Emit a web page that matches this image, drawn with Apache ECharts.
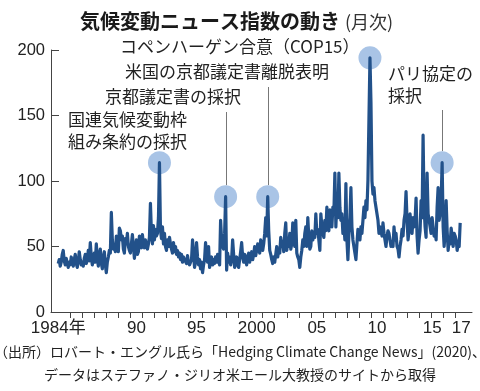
<!DOCTYPE html>
<html><head><meta charset="utf-8">
<script src="https://cdn.jsdelivr.net/npm/echarts@6/dist/echarts.min.js"></script>
<style>html,body{margin:0;padding:0;background:#fff}#c{width:480px;height:391px}</style>
</head><body><div id="c"></div>
<script>
// ---- data (monthly index, Jan 1984 - Jun 2017) ----
const startYear = 1984;
const v1984_1988 = [
  37,40,35,38,44,47,39,36,41,37,34,38,
  36,42,38,35,40,44,37,34,39,46,40,36,
  38,35,41,44,37,40,47,39,53,42,36,40,
  45,38,52,41,35,44,48,37,33,42,46,36,
  30,38,42,47,45,76,55,48,50,46,58,52];
const v1989_1993 = [
  46,64,62,55,58,48,45,56,52,60,50,47,
  45,52,59,50,41,48,55,44,46,58,52,49,
  59,52,49,55,50,48,52,57,83,60,52,66,
  55,63,58,60,72,114,63,56,65,52,60,50,
  47,55,50,57,52,48,45,53,46,50,44,47];
const v1994_1998 = [
  42,45,40,44,38,42,40,39,37,43,38,36,
  37,40,55,45,34,38,53,42,36,40,33,38,
  30,36,40,53,42,38,50,34,38,42,36,40,
  37,42,38,44,40,36,70,55,50,48,60,88,
  32,45,38,42,36,40,55,44,34,38,42,36];
const v1999_2003 = [
  34,40,46,53,42,38,44,40,36,42,45,38,
  42,46,40,44,50,43,47,52,48,45,55,50,
  47,52,60,72,58,88,62,47,44,40,37,42,
  38,44,50,42,48,45,57,50,54,46,60,68,
  47,55,50,60,48,52,68,56,50,70,45,42];
const v2004_2008 = [
  40,34,42,47,55,50,60,65,50,72,57,48,
  50,62,55,60,57,75,60,63,55,47,75,66,
  60,57,70,62,80,65,62,78,70,65,80,75,
  106,65,85,72,106,80,70,75,60,66,55,98,
  55,40,60,72,95,65,55,50,45,40,52,63];
const v2009_2013 = [
  58,55,65,60,70,80,72,85,78,101,100,194,
  160,100,90,95,85,80,75,70,60,65,62,58,
  68,60,55,50,58,62,60,55,50,52,50,65,
  55,60,50,48,42,50,55,63,58,70,75,92,
  70,55,62,75,65,60,72,65,70,87,58,45];
const v2014_2017 = [
  55,62,85,72,135,80,65,57,106,75,70,65,
  60,72,65,58,62,55,80,95,70,75,85,114,
  65,50,60,85,62,47,55,52,64,58,50,60,
  58,55,47,52,50,68];

const yTicks = [0, 50, 100, 150, 200];
const xLabelYears = [1984, 1990, 1995, 2000, 2005, 2010, 2015, 2017];
const xLabelText = ['1984年', '90', '95', '2000', '05', '10', '15', '17'];

// events: month index (from Jan 1984) and annotation text
const eventIdx = [101, 167, 209, 311, 383];
const eventText = [
  ['国連気候変動枠', '組み条約の採択'],
  ['京都議定書の採択'],
  ['米国の京都議定書離脱表明'],
  ['コペンハーゲン合意（COP15）'],
  ['パリ協定の', '採択']
];
const titleMain = '気候変動ニュース指数の動き';
const titleSub = '(月次)';
const source1 = '（出所）ロバート・エングル氏ら「Hedging Climate Change News」(2020)、';
const source2 = 'データはステファノ・ジリオ米エール大教授のサイトから取得';

// ---- build ----
const values = [].concat(v1984_1988, v1989_1993, v1994_1998, v1999_2003, v2004_2008, v2009_2013, v2014_2017);
const lineData = values.map((v, i) => [startYear + i / 12, v]);
const eventData = eventIdx.map(i => lineData[i]);
const tickYears = [];
for (let y = 1985; y <= 2017; y++) tickYears.push(y);
const labelOffset = [0, 0.5, 0.5, 0.5, 0.5, 0.5, 0.1, 0.5];
const labelPos = xLabelYears.map((y, k) => y + labelOffset[k]);

const NUM = "'Liberation Sans','Noto Sans CJK JP',sans-serif";
const JP = "'Noto Sans CJK JP',sans-serif";

const chart = echarts.init(document.getElementById('c'), null, {renderer: 'canvas'});
chart.setOption({
  animation: false,
  backgroundColor: '#fff',
  grid: {left: 51, right: 8, top: 50, bottom: 79},
  xAxis: {
    type: 'value', min: 1983.4, max: 2018.4,
    axisLine: {show: true, lineStyle: {color: '#444', width: 1}},
    axisTick: {show: true, customValues: tickYears, length: 6, lineStyle: {color: '#444'}},
    axisLabel: {
      customValues: labelPos, fontSize: 17, color: '#222', margin: 8, fontFamily: NUM,
      formatter: function (v) {
        let best = 0;
        for (let k = 0; k < labelPos.length; k++) if (Math.abs(labelPos[k] - v) < Math.abs(labelPos[best] - v)) best = k;
        return xLabelText[best];
      }
    },
    splitLine: {show: false}
  },
  yAxis: {
    type: 'value', min: yTicks[0], max: yTicks[yTicks.length - 1], interval: 50,
    axisLine: {show: true, lineStyle: {color: '#444', width: 1}},
    axisTick: {show: true, inside: true, length: 8, lineStyle: {color: '#444'}},
    axisLabel: {fontSize: 16.5, color: '#222', margin: 6, fontFamily: NUM},
    splitLine: {show: false}
  },
  series: [
    {type: 'scatter', data: eventData, symbolSize: 23, itemStyle: {color: '#a9c4e6', opacity: 1}, z: 2, silent: true},
    {type: 'line', data: lineData, showSymbol: false, symbol: 'none',
      lineStyle: {color: '#22518a', width: 3.2, join: 'round'}, z: 3}
  ]
});

// annotations
const px = eventData.map(d => chart.convertToPixel({seriesIndex: 1}, d));
const R = 11.5;
const g = [];
const txt = (s, x, y, opt) => g.push(Object.assign({type: 'text', left: x, top: y - 12, style: {text: s, fontSize: 17, fontFamily: JP, fill: '#222', textVerticalAlign: 'top'}}, opt || {}));
// title
g.push({type: 'text', left: 80, top: 11, style: {text: titleMain, fontSize: 20, fontWeight: 'bold', fontFamily: JP, fill: '#1a1a1a'}});
g.push({type: 'text', left: 345, top: 13, style: {text: titleSub, fontSize: 18, fontFamily: JP, fill: '#333'}});
// event texts
txt(eventText[3][0], 120, 50);
txt(eventText[2][0], 125, 75);
txt(eventText[1][0], 105, 100);
txt(eventText[0][0], 68, 123);
txt(eventText[0][1], 68, 145);
txt(eventText[4][0], 388, 77);
txt(eventText[4][1], 388, 99);
// leader lines
const lead = (k, y0) => g.push({type: 'line', shape: {x1: Math.round(px[k][0]) + 0.5, y1: y0, x2: Math.round(px[k][0]) + 0.5, y2: px[k][1] - R}, style: {stroke: '#777', lineWidth: 1}, z: 1});
lead(1, 112);
lead(2, 87);
lead(4, 110);
// source
g.push({type: 'text', left: 'center', top: 345, style: {text: source1, fontSize: 14, fontFamily: JP, fill: '#222'}});
g.push({type: 'text', left: 'center', top: 368, style: {text: source2, fontSize: 14, fontFamily: JP, fill: '#222'}});
chart.setOption({graphic: g});
</script></body></html>
